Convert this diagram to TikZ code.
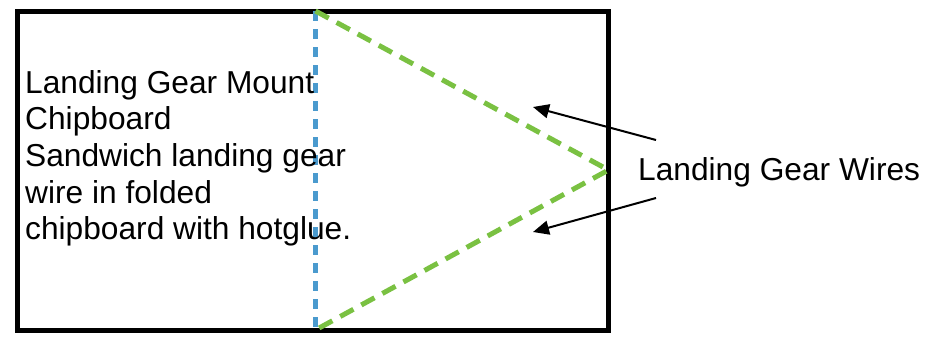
\documentclass[tikz,border=0pt]{standalone}
\usepackage{fontspec}
\setmainfont{Liberation Sans}
\usepackage{xcolor}
\usetikzlibrary{arrows.meta,positioning,calc}
\definecolor{foldblue}{RGB}{74,154,206}
\definecolor{wiregreen}{RGB}{122,193,66}

\begin{document}
\begin{tikzpicture}[
        x=1pt, y=-1pt,
        board/.style={
            draw=black,
            line width=5pt
        },
        fold/.style={
            draw=foldblue,
            line width=4.5pt,
            dash pattern=on 10pt off 8pt
        },
        wire/.style={
            draw=wiregreen,
            line width=5pt,
            dash pattern=on 15pt off 9pt
        },
        pointer/.style={
            -{Triangle[length=16pt,width=14pt]},
            line width=2pt
        },
        txt/.style={
            font=\fontsize{31.7}{36.7}\selectfont,
            inner sep=0pt,
            align=left
        }
    ]
        \useasboundingbox (0,0) rectangle (948,338);

        % Coordinates
        \coordinate (top) at (315.5, 11);
        \coordinate (bot) at (315.5, 330);
        \coordinate (tip) at (608.5, 170);
        \coordinate (p1) at (656, 140);
        \coordinate (p2) at (656, 198);
        \coordinate (h1) at (533, 107);
        \coordinate (h2) at (533, 232);

        % Chipboard
        \draw[board] (17.5, 11) rectangle (608.5, 330);
        \draw[fold] (top) -- (bot);
        \draw[wire] (top) -- (tip) -- (bot);

        % Texts
        \node[txt, anchor=north west] (mount) at (25, 70)
            {Landing Gear Mount\\Chipboard\\Sandwich landing gear\\wire in folded\\chipboard with hotglue.};
        \node[txt, anchor=base west] (wires) at (638, 180) {Landing Gear Wires};

        % Pointers
        \draw[pointer] (p1) -- (h1);
        \draw[pointer] (p2) -- (h2);
    \end{tikzpicture}
\end{document}
